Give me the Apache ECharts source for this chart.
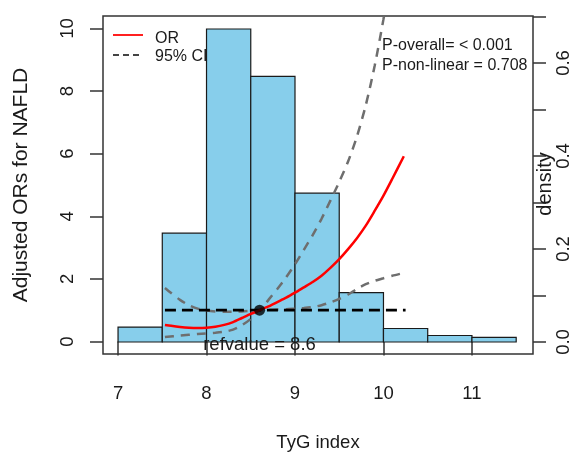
<!DOCTYPE html>
<html><head><meta charset="utf-8">
<script src="https://cdn.jsdelivr.net/npm/echarts@6/dist/echarts.min.js"></script>
<style>html,body{margin:0;padding:0;background:#fff}#c{width:579px;height:455px}</style>
</head><body><div id="c"></div>
<script>
// Histogram bins (TyG index) and density values
const binStarts = [7, 7.5, 8, 8.5, 9, 9.5, 10, 10.5, 11];
const binWidth = 0.5;
const densities = [0.032, 0.234, 0.673, 0.571, 0.320, 0.106, 0.029, 0.014, 0.010];

// OR curve
const orX = [7.53, 7.6, 7.7, 7.8, 7.9, 8.0, 8.1, 8.2, 8.3, 8.4, 8.5, 8.6, 8.7, 8.8, 8.9, 9.0, 9.1, 9.2, 9.3, 9.4, 9.5, 9.6, 9.7, 9.8, 9.9, 10.0, 10.1, 10.23];
const orY = [0.53, 0.50, 0.465, 0.44, 0.43, 0.44, 0.47, 0.53, 0.62, 0.75, 0.88, 1.0, 1.12, 1.26, 1.40, 1.56, 1.73, 1.90, 2.10, 2.35, 2.63, 2.95, 3.30, 3.70, 4.17, 4.66, 5.20, 5.92];

// Upper 95% CI
const upX = [7.53, 7.6, 7.7, 7.8, 7.9, 8.0, 8.1, 8.2, 8.3, 8.4, 8.5, 8.6, 8.7, 8.8, 8.9, 9.0, 9.1, 9.2, 9.3, 9.4, 9.5, 9.6, 9.7, 9.8, 9.9, 10.0, 10.1, 10.23];
const upY = [1.71, 1.55, 1.33, 1.16, 1.05, 0.99, 0.96, 0.95, 0.95, 0.96, 0.98, 1.0, 1.33, 1.68, 2.05, 2.47, 2.93, 3.40, 3.92, 4.50, 5.10, 5.75, 6.55, 7.55, 8.80, 10.3, 12.0, 14.5];

// Lower 95% CI
const loX = [7.53, 7.7, 7.9, 8.1, 8.2, 8.3, 8.4, 8.5, 8.6, 8.7, 8.8, 8.9, 9.0, 9.1, 9.2, 9.3, 9.4, 9.5, 9.6, 9.7, 9.8, 9.9, 10.0, 10.1, 10.2];
const loY = [0.14, 0.19, 0.24, 0.28, 0.31, 0.38, 0.52, 0.72, 1.0, 1.01, 1.02, 1.03, 1.05, 1.07, 1.10, 1.16, 1.25, 1.36, 1.50, 1.68, 1.83, 1.94, 2.02, 2.10, 2.17];

// Reference line and reference point
const refX = [7.53, 10.25];
const refOR = 1;
const refValue = 8.6;

// Axis ticks
const xTicks = [7, 8, 9, 10, 11];
const yTicks = [0, 2, 4, 6, 8, 10];
const densTicks = [0, 0.1, 0.2, 0.3, 0.4, 0.5, 0.6, 0.7];
const densLabels = [0, 0.2, 0.4, 0.6];

const FONT = 'Liberation Sans, Arial, sans-serif';
const zip = (xs, ys) => xs.map((x, i) => [x, ys[i]]);

const chart = echarts.init(document.getElementById('c'), null, {renderer: 'canvas'});
chart.setOption({
  animation: false,
  backgroundColor: '#fff',
  grid: {left: 103, right: 46, top: 16, bottom: 101, show: true, borderColor: '#333', borderWidth: 1.5, backgroundColor: 'transparent'},
  xAxis: {
    type: 'value', min: 6.83, max: 11.69,
    axisLine: {show: false},
    splitLine: {show: false},
    axisTick: {show: true, customValues: xTicks, length: 14, lineStyle: {color: '#333', width: 1.5}},
    axisLabel: {customValues: xTicks, margin: 30, fontSize: 18.5, color: '#1a1a1a', fontFamily: FONT}
  },
  yAxis: [{
    type: 'value', min: -0.4, max: 10.4, position: 'left',
    axisLine: {show: false},
    splitLine: {show: false},
    axisTick: {show: true, customValues: yTicks, length: 13, lineStyle: {color: '#333', width: 1.5}},
    axisLabel: {customValues: yTicks, rotate: 90, margin: 26, fontSize: 18.5, color: '#1a1a1a', fontFamily: FONT}
  }, {
    type: 'value', min: -0.0258, max: 0.701, position: 'right',
    axisLine: {show: false},
    splitLine: {show: false},
    axisTick: {show: true, customValues: densTicks, length: 13, lineStyle: {color: '#333', width: 1.5}},
    axisLabel: {customValues: densLabels, rotate: 90, margin: 21, fontSize: 18.5, color: '#1a1a1a', fontFamily: FONT,
      formatter: v => Number(v).toFixed(1)}
  }],
  graphic: [
    {type: 'line', z: 1, shape: {x1: 113, y1: 35, x2: 143, y2: 35}, style: {stroke: '#ff2020', lineWidth: 2}},
    {type: 'line', z: 1, shape: {x1: 113, y1: 55, x2: 143, y2: 55}, style: {stroke: '#444', lineWidth: 2, lineDash: [6, 4]}},
    {type: 'text', z: 1, left: 155, top: 31, style: {text: 'OR', fontSize: 16, fontFamily: FONT, fill: '#1a1a1a'}},
    {type: 'text', z: 1, left: 155, top: 49, style: {text: '95% CI', fontSize: 16, fontFamily: FONT, fill: '#1a1a1a'}},
    {type: 'text', z: 100, left: 382, top: 38, style: {text: 'P-overall= < 0.001', fontSize: 16, fontFamily: FONT, fill: '#1a1a1a'}},
    {type: 'text', z: 100, left: 382, top: 58, style: {text: 'P-non-linear = 0.708', fontSize: 16, fontFamily: FONT, fill: '#1a1a1a'}},
    {type: 'text', z: 100, x: 259.5, y: 345, style: {text: 'refvalue = 8.6', fontSize: 18.5, fontFamily: FONT, fill: '#1a1a1a', align: 'center', verticalAlign: 'middle'}},
    {type: 'text', z: 100, x: 318, y: 443, style: {text: 'TyG index', fontSize: 18.5, fontFamily: FONT, fill: '#1a1a1a', align: 'center', verticalAlign: 'middle'}},
    {type: 'text', z: 100, x: 21, y: 185, rotation: Math.PI / 2, style: {text: 'Adjusted ORs for NAFLD', fontSize: 21, fontFamily: FONT, fill: '#1a1a1a', align: 'center', verticalAlign: 'middle'}},
    {type: 'text', z: 100, x: 545, y: 184, rotation: Math.PI / 2, style: {text: 'density', fontSize: 20, fontFamily: FONT, fill: '#1a1a1a', align: 'center', verticalAlign: 'middle'}}
  ],
  series: [
    {
      type: 'custom', xAxisIndex: 0, yAxisIndex: 1, z: 2,
      data: binStarts.map((s, i) => [s, s + binWidth, densities[i]]),
      encode: {x: [0, 1], y: 2},
      renderItem: function (params, api) {
        const p0 = api.coord([api.value(0), 0]);
        const p1 = api.coord([api.value(1), api.value(2)]);
        return {type: 'rect', shape: {x: p0[0], y: p1[1], width: p1[0] - p0[0], height: p0[1] - p1[1]},
          style: {fill: '#87CEEB', stroke: '#1a1a1a', lineWidth: 1.2}};
      }
    },
    {type: 'line', z: 3, data: zip(upX, upY), smooth: 0.25, showSymbol: false, clip: true,
      lineStyle: {color: '#6e6e6e', width: 2.5, type: [9, 7]}},
    {type: 'line', z: 3, data: zip(loX, loY), smooth: 0.25, showSymbol: false, clip: true,
      lineStyle: {color: '#6e6e6e', width: 2.5, type: [9, 7]}},
    {type: 'line', z: 3, data: refX.map(x => [x, refOR]), showSymbol: false,
      lineStyle: {color: '#000', width: 2.8, type: [11, 6]}},
    {type: 'line', z: 4, data: zip(orX, orY), smooth: 0.25, showSymbol: false, clip: true,
      lineStyle: {color: '#ff0000', width: 2.5}},
    {type: 'scatter', z: 5, data: [[refValue, refOR]], symbolSize: 11, itemStyle: {color: '#000'}}
  ]
});
</script></body></html>
